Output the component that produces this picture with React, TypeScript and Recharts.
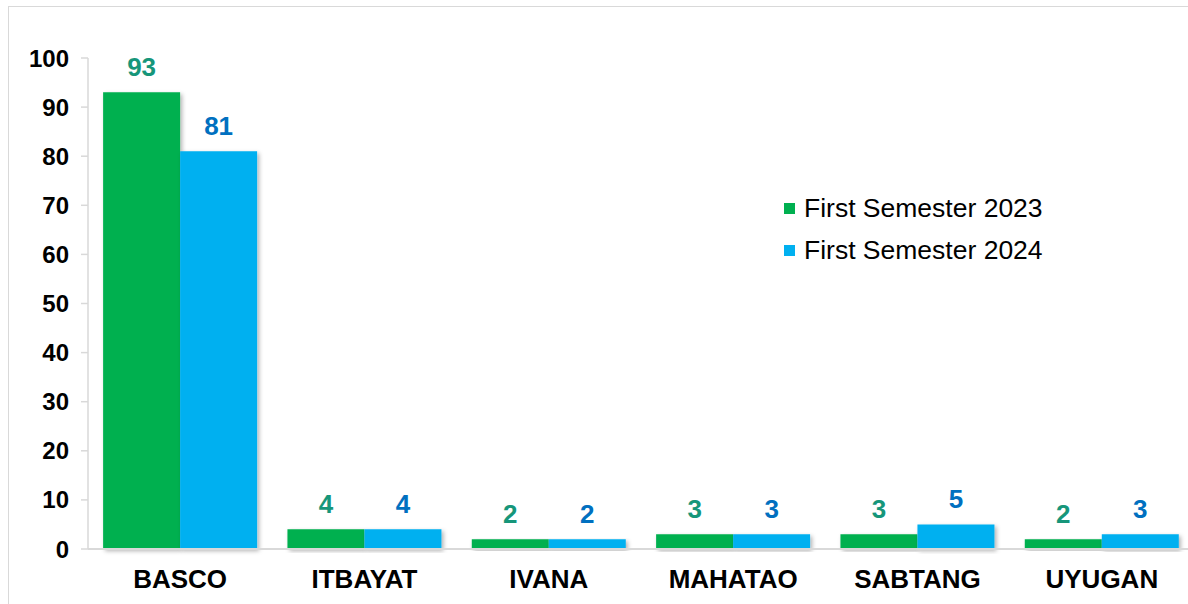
import React from "react"
import { BarChart, Bar, XAxis, YAxis, LabelList } from "recharts"

const municipalities = ["BASCO", "ITBAYAT", "IVANA", "MAHATAO", "SABTANG", "UYUGAN"]
const sem2023 = [93, 4, 2, 3, 3, 2]
const sem2024 = [81, 4, 2, 3, 5, 3]
const yTicks = [0, 10, 20, 30, 40, 50, 60, 70, 80, 90, 100]

const seriesInfo = [
  { key: "s2023", name: "First Semester 2023", color: "#00b050", labelColor: "#16967a" },
  { key: "s2024", name: "First Semester 2024", color: "#00b0f0", labelColor: "#0070c0" },
]

const data = municipalities.map((name, i) => ({
  name,
  s2023: sem2023[i],
  s2024: sem2024[i],
}))

const font = "Arial, 'Liberation Sans', sans-serif"

function LegendBox() {
  return (
    <div style={{ fontFamily: font, fontSize: 26.5, color: "#000" }}>
      {seriesInfo.map((s) => (
        <div key={s.key} style={{ display: "flex", alignItems: "center", height: 42 }}>
          <span style={{ width: 11, height: 11, background: s.color, marginRight: 9, display: "inline-block" }} />
          <span>{s.name}</span>
        </div>
      ))}
    </div>
  )
}

export default function App() {
  return (
    <>
      <style>{"body{margin:0;overflow:hidden;background:#fff}"}</style>
      <div style={{ marginLeft: 8, marginTop: 6, width: 1190, height: 600, border: "1px solid #d9d9d9" }}>
        <BarChart
          width={1190}
          height={600}
          data={data}
          margin={{ top: 51, right: 5, left: 0, bottom: 0 }}
          barGap={0}
          barCategoryGap="8.2%"
        >
          <defs>
            <filter id="barShadow" x="-10%" y="-10%" width="130%" height="130%">
              <feDropShadow dx="2" dy="2" stdDeviation="2" floodColor="#000" floodOpacity="0.3" />
            </filter>
          </defs>
          <XAxis
            dataKey="name"
            height={58}
            axisLine={{ stroke: "#d9d9d9", strokeWidth: 2 }}
            tickLine={false}
            tickSize={0}
            tickMargin={21}
            tick={{ fill: "#000", fontSize: 26, fontWeight: "bold", fontFamily: font }}
            interval={0}
          />
          <YAxis
            width={79}
            domain={[0, 100]}
            ticks={yTicks}
            interval={0}
            axisLine={{ stroke: "#d9d9d9", strokeWidth: 1.5 }}
            tickLine={{ stroke: "#d9d9d9", strokeWidth: 1.5 }}
            tickSize={7}
            tickMargin={12}
            tick={{ fill: "#000", fontSize: 24, fontWeight: "bold", fontFamily: font }}
          />
          {seriesInfo.map((s) => (
            <Bar key={s.key} dataKey={s.key} name={s.name} fill={s.color} isAnimationActive={false} filter="url(#barShadow)">
              <LabelList
                dataKey={s.key}
                position="top"
                offset={16}
                fill={s.labelColor}
                style={{ fontSize: 26, fontWeight: "bold", fontFamily: font }}
              />
            </Bar>
          ))}
        </BarChart>
      </div>
      <div style={{ position: "absolute", left: 784, top: 187 }}>
        <LegendBox />
      </div>
    </>
  )
}
